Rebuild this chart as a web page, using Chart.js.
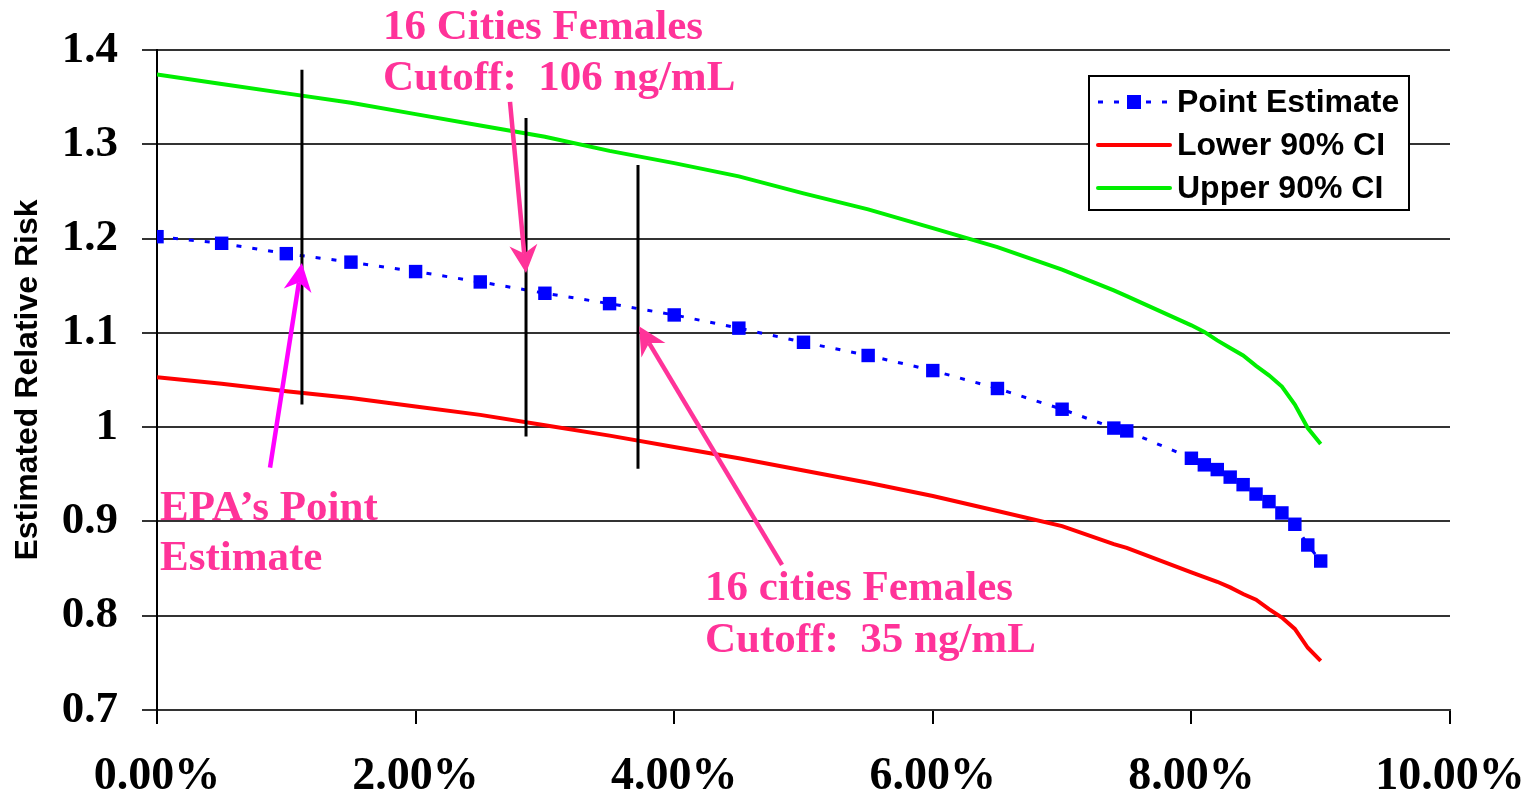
<!DOCTYPE html>
<html>
<head>
<meta charset="utf-8">
<title>Estimated Relative Risk</title>
<script src="https://cdn.jsdelivr.net/npm/chart.js@4.4.0/dist/chart.umd.min.js"></script>
<style>
  body { margin: 0; background: #fff; }
  #wrap { width: 1539px; height: 797px; }
</style>
</head>
<body>
<div id="wrap"><canvas id="chartCanvas" width="1539" height="797"></canvas></div>
<script>
// data
const xValues = [0, 0.005, 0.01, 0.015, 0.02, 0.025, 0.03, 0.035, 0.04, 0.045, 0.05, 0.055, 0.06, 0.065, 0.07,
  0.074, 0.075, 0.08, 0.081, 0.082, 0.083, 0.084, 0.085, 0.086, 0.087, 0.088, 0.089, 0.09];
const pointEstimate = [1.202, 1.195, 1.184, 1.175, 1.165, 1.154, 1.142, 1.131, 1.119, 1.105, 1.090, 1.076, 1.060, 1.041, 1.019,
  0.999, 0.996, 0.967, 0.960, 0.955, 0.947, 0.939, 0.929, 0.921, 0.909, 0.897, 0.875, 0.858];
const lowerCI = [1.053, 1.046, 1.038, 1.031, 1.022, 1.013, 1.002, 0.991, 0.979, 0.967, 0.954, 0.941, 0.927, 0.911, 0.895,
  0.876, 0.872, 0.846, 0.841, 0.836, 0.830, 0.823, 0.817, 0.807, 0.798, 0.786, 0.766, 0.752];
const upperCI = [1.374, 1.364, 1.354, 1.344, 1.332, 1.320, 1.308, 1.293, 1.280, 1.266, 1.248, 1.231, 1.211, 1.191, 1.167,
  1.145, 1.139, 1.108, 1.101, 1.092, 1.084, 1.076, 1.065, 1.055, 1.043, 1.024, 0.999, 0.982];
const seriesNames = ['Point Estimate', 'Lower 90% CI', 'Upper 90% CI'];
const xTickLabels = ['0.00%', '2.00%', '4.00%', '6.00%', '8.00%', '10.00%'];
const yTickLabels = ['0.7', '0.8', '0.9', '1', '1.1', '1.2', '1.3', '1.4'];

// annotations, in data units
const cutoffLines = [
  { x: 0.01121, y1: 1.379, y2: 1.024 },
  { x: 0.02854, y1: 1.328, y2: 0.990 },
  { x: 0.0372, y1: 1.278, y2: 0.956 }
];
const arrows = [
  { from: [0.00874, 0.957], to: [0.01121, 1.174], color: '#FF00FF' },
  { from: [0.0273, 1.345], to: [0.02854, 1.1635], color: '#FF3399' },
  { from: [0.04834, 0.854], to: [0.03728, 1.107], color: '#FF3399' }
];
const notes = [
  { x: 0.01748, y: 1.4117, text: '16 Cities Females' },
  { x: 0.01748, y: 1.3576, text: 'Cutoff:  106 ng/mL' },
  { x: 0.00023, y: 0.9016, text: 'EPA\u2019s Point' },
  { x: 0.00023, y: 0.8486, text: 'Estimate' },
  { x: 0.04238, y: 0.8168, text: '16 cities Females' },
  { x: 0.04238, y: 0.7616, text: 'Cutoff:  35 ng/mL' }
];

function toPoints(ys) {
  return xValues.map((x, i) => ({ x: x, y: ys[i] }));
}

function drawArrow(ctx, x1, y1, x2, y2, color) {
  const ang = Math.atan2(y2 - y1, x2 - x1);
  const len = 28, half = 14;
  const bx = x2 - Math.cos(ang) * len * 0.7;
  const by = y2 - Math.sin(ang) * len * 0.7;
  ctx.save();
  ctx.strokeStyle = color;
  ctx.fillStyle = color;
  ctx.lineWidth = 4.5;
  ctx.beginPath();
  ctx.moveTo(x1, y1);
  ctx.lineTo(bx, by);
  ctx.stroke();
  const ex = x2 - Math.cos(ang) * len, ey = y2 - Math.sin(ang) * len;
  ctx.beginPath();
  ctx.moveTo(x2, y2);
  ctx.lineTo(ex + Math.sin(ang) * half, ey - Math.cos(ang) * half);
  ctx.lineTo(bx, by);
  ctx.lineTo(ex - Math.sin(ang) * half, ey + Math.cos(ang) * half);
  ctx.closePath();
  ctx.fill();
  ctx.restore();
}

const annotationPlugin = {
  id: 'notes',
  afterDatasetsDraw(chart) {
    const ctx = chart.ctx;
    const xs = chart.scales.x, ys = chart.scales.y;
    ctx.save();
    ctx.strokeStyle = '#000';
    ctx.lineWidth = 3;
    cutoffLines.forEach(l => {
      const px = xs.getPixelForValue(l.x);
      ctx.beginPath();
      ctx.moveTo(px, ys.getPixelForValue(l.y1));
      ctx.lineTo(px, ys.getPixelForValue(l.y2));
      ctx.stroke();
    });
    arrows.forEach(a => {
      drawArrow(ctx, xs.getPixelForValue(a.from[0]), ys.getPixelForValue(a.from[1]),
        xs.getPixelForValue(a.to[0]), ys.getPixelForValue(a.to[1]), a.color);
    });
    ctx.fillStyle = '#FF3399';
    ctx.font = 'bold 43px "Liberation Serif", "Times New Roman", serif';
    ctx.textAlign = 'left';
    ctx.textBaseline = 'alphabetic';
    notes.forEach(n => {
      ctx.fillText(n.text, xs.getPixelForValue(n.x), ys.getPixelForValue(n.y));
    });
    ctx.restore();
  },
  afterDraw(chart) {
    // legend box
    const ctx = chart.ctx;
    const area = chart.chartArea;
    const bx = area.right - 361, by = area.top + 26, bw = 320, bh = 134;
    ctx.save();
    ctx.fillStyle = '#fff';
    ctx.fillRect(bx, by, bw, bh);
    ctx.strokeStyle = '#000';
    ctx.lineWidth = 2;
    ctx.strokeRect(bx, by, bw, bh);
    const colors = ['#0000FF', '#FF0000', '#00EE00'];
    ctx.font = 'bold 32px "Liberation Sans", Arial, sans-serif';
    ctx.textBaseline = 'middle';
    ctx.textAlign = 'left';
    seriesNames.forEach((name, i) => {
      const cy = by + 26 + i * 43;
      ctx.strokeStyle = colors[i];
      ctx.lineCap = 'round';
      if (i === 0) {
        ctx.lineWidth = 3;
        ctx.setLineDash([5, 11]);
        ctx.lineCap = 'butt';
      } else {
        ctx.lineWidth = 4;
        ctx.setLineDash([]);
      }
      ctx.beginPath();
      ctx.moveTo(bx + 9, cy);
      ctx.lineTo(bx + 81, cy);
      ctx.stroke();
      ctx.setLineDash([]);
      if (i === 0) {
        ctx.fillStyle = colors[0];
        ctx.fillRect(bx + 45 - 7, cy - 7, 14, 14);
      }
      ctx.fillStyle = '#000';
      ctx.fillText(name, bx + 88, cy + 1);
    });
    ctx.restore();
  }
};

const chartCanvas = document.getElementById('chartCanvas');
const myChart = new Chart(chartCanvas, {
  type: 'line',
  data: {
    datasets: [
      {
        label: seriesNames[0],
        data: toPoints(pointEstimate),
        borderColor: '#0000FF',
        backgroundColor: '#0000FF',
        borderWidth: 3,
        borderDash: [5, 11],
        pointStyle: 'rect',
        pointRadius: 9.5,
        pointBorderWidth: 0,
        tension: 0
      },
      {
        label: seriesNames[1],
        data: toPoints(lowerCI),
        borderColor: '#FF0000',
        borderWidth: 4,
        pointRadius: 0,
        tension: 0
      },
      {
        label: seriesNames[2],
        data: toPoints(upperCI),
        borderColor: '#00EE00',
        borderWidth: 4,
        pointRadius: 0,
        tension: 0
      }
    ]
  },
  options: {
    responsive: false,
    animation: false,
    devicePixelRatio: 1,
    layout: { padding: { left: 0, top: 50, right: 89, bottom: 0 } },
    plugins: {
      legend: { display: false },
      tooltip: { enabled: false }
    },
    scales: {
      x: {
        type: 'linear',
        min: 0,
        max: 0.1,
        afterFit: function(scale) {
          scale.height = 87;
          scale.paddingLeft = 0;
          scale.paddingRight = 0;
        },
        grid: { drawOnChartArea: false, color: '#000', lineWidth: 2, tickLength: 14 },
        border: { color: '#333', width: 2 },
        ticks: {
          stepSize: 0.02,
          color: '#000',
          padding: 26,
          maxRotation: 0,
          font: { family: '"Liberation Serif", "Times New Roman", serif', weight: 'bold', size: 46 },
          callback: function(value, index) { return xTickLabels[index]; }
        }
      },
      y: {
        min: 0.7,
        max: 1.4,
        afterFit: function(scale) {
          scale.width = 157;
          scale.paddingTop = 0;
          scale.paddingBottom = 0;
        },
        grid: { color: '#333', lineWidth: 2, tickLength: 15 },
        border: { color: '#000', width: 2 },
        title: {
          display: true,
          text: 'Estimated Relative Risk',
          color: '#000',
          padding: { top: 9, bottom: 0 },
          font: { family: '"Liberation Sans", Arial, sans-serif', weight: 'bold', size: 32 }
        },
        ticks: {
          stepSize: 0.1,
          color: '#000',
          padding: 24,
          font: { family: '"Liberation Serif", "Times New Roman", serif', weight: 'bold', size: 45 },
          callback: function(value, index) { return yTickLabels[index]; }
        }
      }
    }
  },
  plugins: [annotationPlugin]
});
</script>
</body>
</html>
